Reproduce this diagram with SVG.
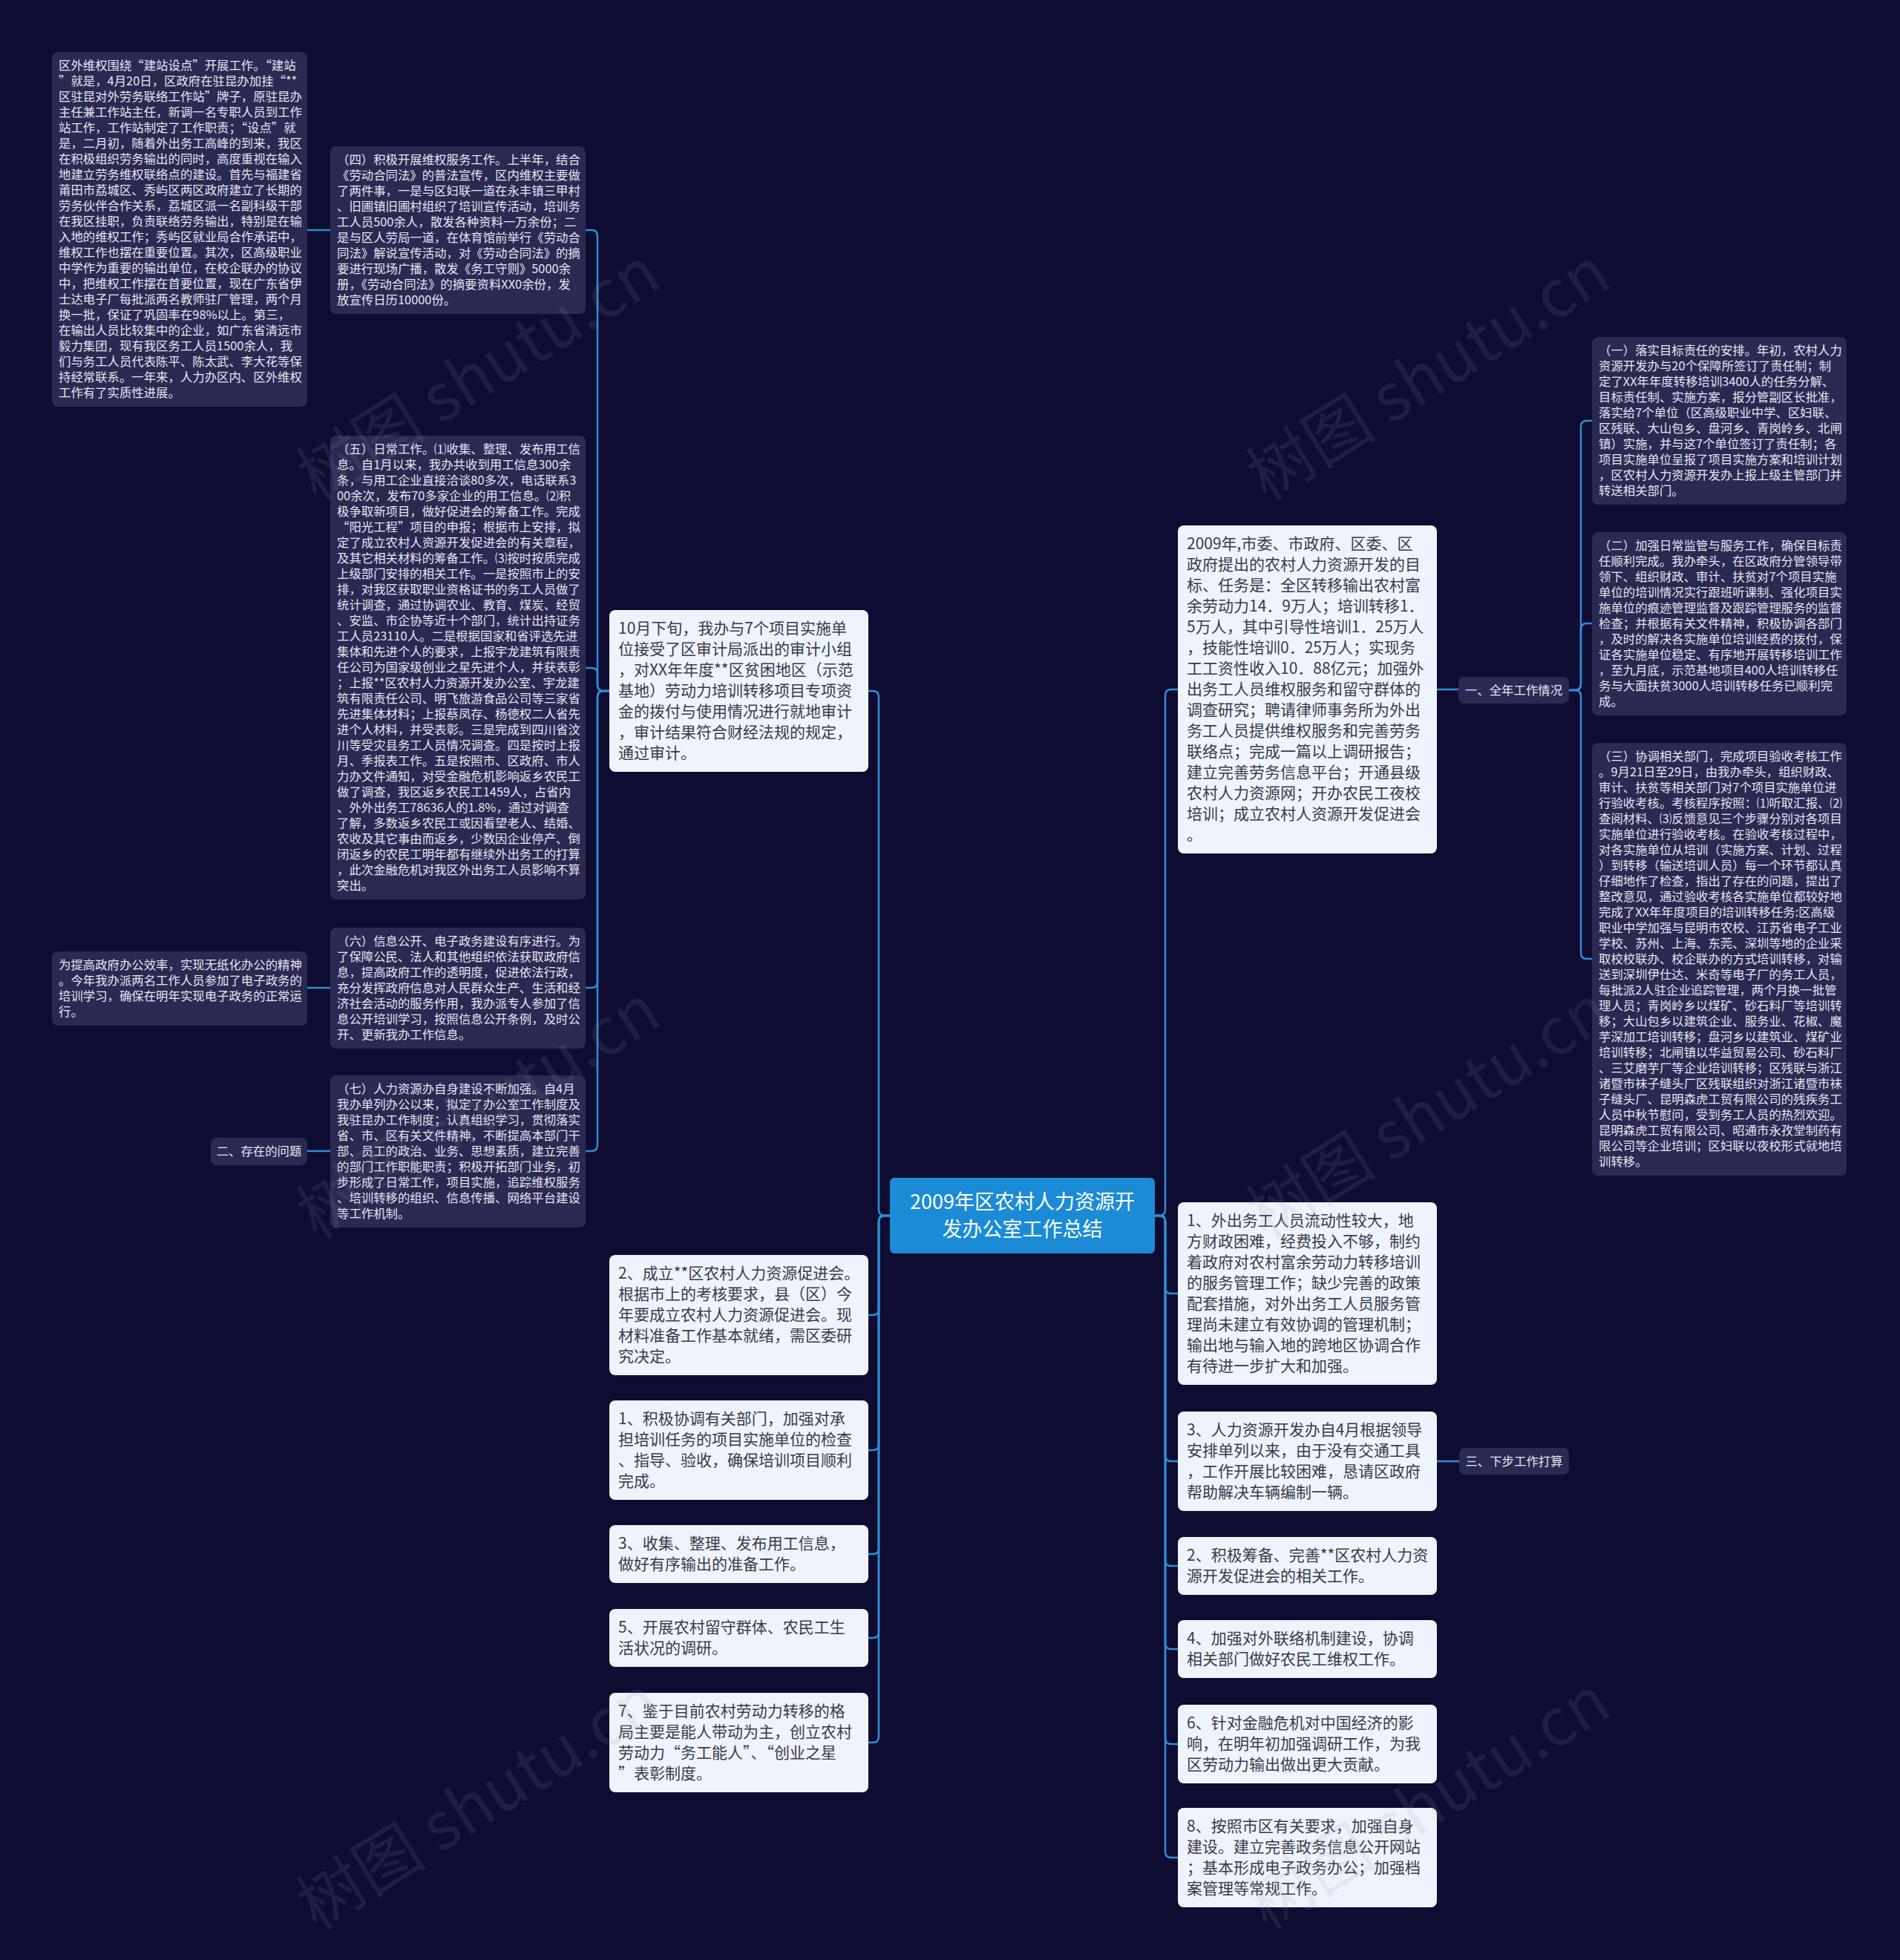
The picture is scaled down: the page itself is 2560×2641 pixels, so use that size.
<svg xmlns="http://www.w3.org/2000/svg" width="2560" height="2641" viewBox="0 0 2560 2641">
<style>
.bg{fill:#0e0c31}
.d{fill:#2a2952}
.l{fill:#eef3fc}
.root{fill:#1c8bd6}
.s{font-family:"Noto Sans CJK SC","Noto Sans",sans-serif;font-size:16.4px;fill:#e6e6ef}
.m{font-family:"Noto Sans CJK SC","Noto Sans",sans-serif;font-size:21px;fill:#3a3a48}
.r{font-family:"Noto Sans CJK SC","Noto Sans",sans-serif;font-size:27px;fill:#ffffff;text-anchor:middle}
.c{text-anchor:middle}
.lnk{fill:none;stroke:#2d8ed8;stroke-width:2.5}
.wm{font-family:"Noto Sans CJK SC","Noto Sans",sans-serif;font-size:88px;fill:#9a9ab0;opacity:0.12}
</style>
<rect class="bg" x="0" y="0" width="2560" height="2641"/>

<g id="connectors">
<path class="lnk" d="M1199 1638 H1192 Q1184 1638 1184 1630 V939 Q1184 931 1176 931 H1170"/>
<path class="lnk" d="M1199 1638 H1192 Q1184 1638 1184 1646 V1764 Q1184 1772 1176 1772 H1170"/>
<path class="lnk" d="M1199 1638 H1192 Q1184 1638 1184 1646 V1946 Q1184 1954 1176 1954 H1170"/>
<path class="lnk" d="M1199 1638 H1192 Q1184 1638 1184 1646 V2086 Q1184 2094 1176 2094 H1170"/>
<path class="lnk" d="M1199 1638 H1192 Q1184 1638 1184 1646 V2199 Q1184 2207 1176 2207 H1170"/>
<path class="lnk" d="M1199 1638 H1192 Q1184 1638 1184 1646 V2340 Q1184 2348 1176 2348 H1170"/>
<path class="lnk" d="M1556 1638 H1562 Q1570 1638 1570 1630 V937 Q1570 929 1578 929 H1587"/>
<path class="lnk" d="M1556 1638 H1562 Q1570 1638 1570 1646 V1735 Q1570 1743 1578 1743 H1587"/>
<path class="lnk" d="M1556 1638 H1562 Q1570 1638 1570 1646 V1961 Q1570 1969 1578 1969 H1587"/>
<path class="lnk" d="M1556 1638 H1562 Q1570 1638 1570 1646 V2102 Q1570 2110 1578 2110 H1587"/>
<path class="lnk" d="M1556 1638 H1562 Q1570 1638 1570 1646 V2214 Q1570 2222 1578 2222 H1587"/>
<path class="lnk" d="M1556 1638 H1562 Q1570 1638 1570 1646 V2342 Q1570 2350 1578 2350 H1587"/>
<path class="lnk" d="M1556 1638 H1562 Q1570 1638 1570 1646 V2495 Q1570 2503 1578 2503 H1587"/>
<path class="lnk" d="M821 931 H813 Q805 931 805 923 V318 Q805 310 797 310 H789"/>
<path class="lnk" d="M821 931 H813 Q805 931 805 923 V908 Q805 900 797 900 H789"/>
<path class="lnk" d="M821 931 H813 Q805 931 805 939 V1323 Q805 1331 797 1331 H789"/>
<path class="lnk" d="M821 931 H813 Q805 931 805 939 V1543 Q805 1551 797 1551 H789"/>
<path class="lnk" d="M445 310 H414"/>
<path class="lnk" d="M445 1331 H414"/>
<path class="lnk" d="M445 1551 H414"/>
<path class="lnk" d="M1936 929 H1965"/>
<path class="lnk" d="M2114 930 H2122 Q2130 930 2130 922 V575 Q2130 567 2138 567 H2145"/>
<path class="lnk" d="M2114 930 H2122 Q2130 930 2130 922 V848 Q2130 840 2138 840 H2145"/>
<path class="lnk" d="M2114 930 H2122 Q2130 930 2130 938 V1284 Q2130 1292 2138 1292 H2145"/>
<path class="lnk" d="M1936 1969 H1966"/>
</g>

<g id="root">
<rect class="root" x="1199" y="1587" width="357" height="102" rx="6"/>
<text class="r" x="1377.5" y="1629">2009年区农村人力资源开</text>
<text class="r" x="1377.5" y="1666">发办公室工作总结</text>
</g>

<g id="n-farleft">
<rect class="d" x="70" y="70" width="344" height="478" rx="8"/>
<text class="s" x="79" y="94"><tspan x="79" dy="0">区外维权围绕“建站设点”开展工作。“建站</tspan><tspan x="79" dy="21">”就是，4月20日，区政府在驻昆办加挂“**</tspan><tspan x="79" dy="21">区驻昆对外劳务联络工作站”牌子，原驻昆办</tspan><tspan x="79" dy="21">主任兼工作站主任，新调一名专职人员到工作</tspan><tspan x="79" dy="21">站工作，工作站制定了工作职责；“设点”就</tspan><tspan x="79" dy="21">是，二月初，随着外出务工高峰的到来，我区</tspan><tspan x="79" dy="21">在积极组织劳务输出的同时，高度重视在输入</tspan><tspan x="79" dy="21">地建立劳务维权联络点的建设。首先与福建省</tspan><tspan x="79" dy="21">莆田市荔城区、秀屿区两区政府建立了长期的</tspan><tspan x="79" dy="21">劳务伙伴合作关系，荔城区派一名副科级干部</tspan><tspan x="79" dy="21">在我区挂职，负责联络劳务输出，特别是在输</tspan><tspan x="79" dy="21">入地的维权工作；秀屿区就业局合作承诺中，</tspan><tspan x="79" dy="21">维权工作也摆在重要位置。其次，区高级职业</tspan><tspan x="79" dy="21">中学作为重要的输出单位，在校企联办的协议</tspan><tspan x="79" dy="21">中，把维权工作摆在首要位置，现在广东省伊</tspan><tspan x="79" dy="21">士达电子厂每批派两名教师驻厂管理，两个月</tspan><tspan x="79" dy="21">换一批，保证了巩固率在98%以上。第三，</tspan><tspan x="79" dy="21">在输出人员比较集中的企业，如广东省清远市</tspan><tspan x="79" dy="21">毅力集团，现有我区务工人员1500余人，我</tspan><tspan x="79" dy="21">们与务工人员代表陈平、陈太武、李大花等保</tspan><tspan x="79" dy="21">持经常联系。一年来，人力办区内、区外维权</tspan><tspan x="79" dy="21">工作有了实质性进展。</tspan></text>
</g>

<g id="n-4">
<rect class="d" x="445" y="197" width="344" height="226" rx="8"/>
<text class="s" x="454" y="221"><tspan x="454" dy="0">（四）积极开展维权服务工作。上半年，结合</tspan><tspan x="454" dy="21">《劳动合同法》的普法宣传，区内维权主要做</tspan><tspan x="454" dy="21">了两件事，一是与区妇联一道在永丰镇三甲村</tspan><tspan x="454" dy="21">、旧圃镇旧圃村组织了培训宣传活动，培训务</tspan><tspan x="454" dy="21">工人员500余人，散发各种资料一万余份；二</tspan><tspan x="454" dy="21">是与区人劳局一道，在体育馆前举行《劳动合</tspan><tspan x="454" dy="21">同法》解说宣传活动，对《劳动合同法》的摘</tspan><tspan x="454" dy="21">要进行现场广播，散发《务工守则》5000余</tspan><tspan x="454" dy="21">册，《劳动合同法》的摘要资料XX0余份，发</tspan><tspan x="454" dy="21">放宣传日历10000份。</tspan></text>
</g>

<g id="n-5">
<rect class="d" x="445" y="587" width="344" height="625" rx="8"/>
<text class="s" x="454" y="611"><tspan x="454" dy="0">（五）日常工作。⑴收集、整理、发布用工信</tspan><tspan x="454" dy="21">息。自1月以来，我办共收到用工信息300余</tspan><tspan x="454" dy="21">条，与用工企业直接洽谈80多次，电话联系3</tspan><tspan x="454" dy="21">00余次，发布70多家企业的用工信息。⑵积</tspan><tspan x="454" dy="21">极争取新项目，做好促进会的筹备工作。完成</tspan><tspan x="454" dy="21">“阳光工程”项目的申报；根据市上安排，拟</tspan><tspan x="454" dy="21">定了成立农村人资源开发促进会的有关章程，</tspan><tspan x="454" dy="21">及其它相关材料的筹备工作。⑶按时按质完成</tspan><tspan x="454" dy="21">上级部门安排的相关工作。一是按照市上的安</tspan><tspan x="454" dy="21">排，对我区获取职业资格证书的务工人员做了</tspan><tspan x="454" dy="21">统计调查，通过协调农业、教育、煤炭、经贸</tspan><tspan x="454" dy="21">、安监、市企协等近十个部门，统计出持证务</tspan><tspan x="454" dy="21">工人员23110人。二是根据国家和省评选先进</tspan><tspan x="454" dy="21">集体和先进个人的要求，上报宇龙建筑有限责</tspan><tspan x="454" dy="21">任公司为国家级创业之星先进个人，并获表彰</tspan><tspan x="454" dy="21">；上报**区农村人力资源开发办公室、宇龙建</tspan><tspan x="454" dy="21">筑有限责任公司、明飞旅游食品公司等三家省</tspan><tspan x="454" dy="21">先进集体材料；上报蔡凤存、杨德权二人省先</tspan><tspan x="454" dy="21">进个人材料，并受表彰。三是完成到四川省汶</tspan><tspan x="454" dy="21">川等受灾县务工人员情况调查。四是按时上报</tspan><tspan x="454" dy="21">月、季报表工作。五是按照市、区政府、市人</tspan><tspan x="454" dy="21">力办文件通知，对受金融危机影响返乡农民工</tspan><tspan x="454" dy="21">做了调查，我区返乡农民工1459人，占省内</tspan><tspan x="454" dy="21">、外外出务工78636人的1.8%，通过对调查</tspan><tspan x="454" dy="21">了解，多数返乡农民工或因看望老人、结婚、</tspan><tspan x="454" dy="21">农收及其它事由而返乡，少数因企业停产、倒</tspan><tspan x="454" dy="21">闭返乡的农民工明年都有继续外出务工的打算</tspan><tspan x="454" dy="21">，此次金融危机对我区外出务工人员影响不算</tspan><tspan x="454" dy="21">突出。</tspan></text>
</g>

<g id="n-6">
<rect class="d" x="445" y="1250" width="344" height="163" rx="8"/>
<text class="s" x="454" y="1274"><tspan x="454" dy="0">（六）信息公开、电子政务建设有序进行。为</tspan><tspan x="454" dy="21">了保障公民、法人和其他组织依法获取政府信</tspan><tspan x="454" dy="21">息，提高政府工作的透明度，促进依法行政，</tspan><tspan x="454" dy="21">充分发挥政府信息对人民群众生产、生活和经</tspan><tspan x="454" dy="21">济社会活动的服务作用，我办派专人参加了信</tspan><tspan x="454" dy="21">息公开培训学习，按照信息公开条例，及时公</tspan><tspan x="454" dy="21">开、更新我办工作信息。</tspan></text>
</g>

<g id="n-6a">
<rect class="d" x="70" y="1282" width="344" height="100" rx="8"/>
<text class="s" x="79" y="1306"><tspan x="79" dy="0">为提高政府办公效率，实现无纸化办公的精神</tspan><tspan x="79" dy="21">。今年我办派两名工作人员参加了电子政务的</tspan><tspan x="79" dy="21">培训学习，确保在明年实现电子政务的正常运</tspan><tspan x="79" dy="21">行。</tspan></text>
</g>

<g id="n-7">
<rect class="d" x="445" y="1449" width="344" height="205" rx="8"/>
<text class="s" x="454" y="1473"><tspan x="454" dy="0">（七）人力资源办自身建设不断加强。自4月</tspan><tspan x="454" dy="21">我办单列办公以来，拟定了办公室工作制度及</tspan><tspan x="454" dy="21">我驻昆办工作制度；认真组织学习，贯彻落实</tspan><tspan x="454" dy="21">省、市、区有关文件精神，不断提高本部门干</tspan><tspan x="454" dy="21">部、员工的政治、业务、思想素质，建立完善</tspan><tspan x="454" dy="21">的部门工作职能职责；积极开拓部门业务，初</tspan><tspan x="454" dy="21">步形成了日常工作，项目实施，追踪维权服务</tspan><tspan x="454" dy="21">、培训转移的组织、信息传播、网络平台建设</tspan><tspan x="454" dy="21">等工作机制。</tspan></text>
</g>

<g id="n-label2">
<rect class="d" x="284" y="1533" width="130" height="37" rx="8"/>
<text class="s c" x="349" y="1557">二、存在的问题</text>
</g>

<g id="n-oct">
<rect class="l" x="821" y="822" width="349" height="218" rx="8"/>
<text class="m" x="833" y="854"><tspan x="833" dy="0">10月下旬，我办与7个项目实施单</tspan><tspan x="833" dy="28">位接受了区审计局派出的审计小组</tspan><tspan x="833" dy="28">，对XX年年度**区贫困地区（示范</tspan><tspan x="833" dy="28">基地）劳动力培训转移项目专项资</tspan><tspan x="833" dy="28">金的拨付与使用情况进行就地审计</tspan><tspan x="833" dy="28">，审计结果符合财经法规的规定，</tspan><tspan x="833" dy="28">通过审计。</tspan></text>
</g>

<g id="n-l2">
<rect class="l" x="821" y="1691" width="349" height="162" rx="8"/>
<text class="m" x="833" y="1723"><tspan x="833" dy="0">2、成立**区农村人力资源促进会。</tspan><tspan x="833" dy="28">根据市上的考核要求，县（区）今</tspan><tspan x="833" dy="28">年要成立农村人力资源促进会。现</tspan><tspan x="833" dy="28">材料准备工作基本就绪，需区委研</tspan><tspan x="833" dy="28">究决定。</tspan></text>
</g>

<g id="n-l1">
<rect class="l" x="821" y="1887" width="349" height="134" rx="8"/>
<text class="m" x="833" y="1919"><tspan x="833" dy="0">1、积极协调有关部门，加强对承</tspan><tspan x="833" dy="28">担培训任务的项目实施单位的检查</tspan><tspan x="833" dy="28">、指导、验收，确保培训项目顺利</tspan><tspan x="833" dy="28">完成。</tspan></text>
</g>

<g id="n-l3">
<rect class="l" x="821" y="2055" width="349" height="78" rx="8"/>
<text class="m" x="833" y="2087"><tspan x="833" dy="0">3、收集、整理、发布用工信息，</tspan><tspan x="833" dy="28">做好有序输出的准备工作。</tspan></text>
</g>

<g id="n-l5">
<rect class="l" x="821" y="2168" width="349" height="78" rx="8"/>
<text class="m" x="833" y="2200"><tspan x="833" dy="0">5、开展农村留守群体、农民工生</tspan><tspan x="833" dy="28">活状况的调研。</tspan></text>
</g>

<g id="n-l7">
<rect class="l" x="821" y="2281" width="349" height="134" rx="8"/>
<text class="m" x="833" y="2313"><tspan x="833" dy="0">7、鉴于目前农村劳动力转移的格</tspan><tspan x="833" dy="28">局主要是能人带动为主，创立农村</tspan><tspan x="833" dy="28">劳动力“务工能人”、“创业之星</tspan><tspan x="833" dy="28">”表彰制度。</tspan></text>
</g>

<g id="n-2009">
<rect class="l" x="1587" y="708" width="349" height="442" rx="8"/>
<text class="m" x="1599" y="740"><tspan x="1599" dy="0">2009年,市委、市政府、区委、区</tspan><tspan x="1599" dy="28">政府提出的农村人力资源开发的目</tspan><tspan x="1599" dy="28">标、任务是：全区转移输出农村富</tspan><tspan x="1599" dy="28">余劳动力14．9万人；培训转移1．</tspan><tspan x="1599" dy="28">5万人，其中引导性培训1．25万人</tspan><tspan x="1599" dy="28">，技能性培训0．25万人；实现务</tspan><tspan x="1599" dy="28">工工资性收入10．88亿元；加强外</tspan><tspan x="1599" dy="28">出务工人员维权服务和留守群体的</tspan><tspan x="1599" dy="28">调查研究；聘请律师事务所为外出</tspan><tspan x="1599" dy="28">务工人员提供维权服务和完善劳务</tspan><tspan x="1599" dy="28">联络点；完成一篇以上调研报告；</tspan><tspan x="1599" dy="28">建立完善劳务信息平台；开通县级</tspan><tspan x="1599" dy="28">农村人力资源网；开办农民工夜校</tspan><tspan x="1599" dy="28">培训；成立农村人资源开发促进会</tspan><tspan x="1599" dy="28">。</tspan></text>
</g>

<g id="n-r1">
<rect class="l" x="1587" y="1620" width="349" height="246" rx="8"/>
<text class="m" x="1599" y="1652"><tspan x="1599" dy="0">1、外出务工人员流动性较大，地</tspan><tspan x="1599" dy="28">方财政困难，经费投入不够，制约</tspan><tspan x="1599" dy="28">着政府对农村富余劳动力转移培训</tspan><tspan x="1599" dy="28">的服务管理工作；缺少完善的政策</tspan><tspan x="1599" dy="28">配套措施，对外出务工人员服务管</tspan><tspan x="1599" dy="28">理尚未建立有效协调的管理机制；</tspan><tspan x="1599" dy="28">输出地与输入地的跨地区协调合作</tspan><tspan x="1599" dy="28">有待进一步扩大和加强。</tspan></text>
</g>

<g id="n-r3">
<rect class="l" x="1587" y="1902" width="349" height="134" rx="8"/>
<text class="m" x="1599" y="1934"><tspan x="1599" dy="0">3、人力资源开发办自4月根据领导</tspan><tspan x="1599" dy="28">安排单列以来，由于没有交通工具</tspan><tspan x="1599" dy="28">，工作开展比较困难，恳请区政府</tspan><tspan x="1599" dy="28">帮助解决车辆编制一辆。</tspan></text>
</g>

<g id="n-r2">
<rect class="l" x="1587" y="2071" width="349" height="78" rx="8"/>
<text class="m" x="1599" y="2103"><tspan x="1599" dy="0">2、积极筹备、完善**区农村人力资</tspan><tspan x="1599" dy="28">源开发促进会的相关工作。</tspan></text>
</g>

<g id="n-r4">
<rect class="l" x="1587" y="2183" width="349" height="78" rx="8"/>
<text class="m" x="1599" y="2215"><tspan x="1599" dy="0">4、加强对外联络机制建设，协调</tspan><tspan x="1599" dy="28">相关部门做好农民工维权工作。</tspan></text>
</g>

<g id="n-r6">
<rect class="l" x="1587" y="2297" width="349" height="106" rx="8"/>
<text class="m" x="1599" y="2329"><tspan x="1599" dy="0">6、针对金融危机对中国经济的影</tspan><tspan x="1599" dy="28">响，在明年初加强调研工作，为我</tspan><tspan x="1599" dy="28">区劳动力输出做出更大贡献。</tspan></text>
</g>

<g id="n-r8">
<rect class="l" x="1587" y="2436" width="349" height="134" rx="8"/>
<text class="m" x="1599" y="2468"><tspan x="1599" dy="0">8、按照市区有关要求，加强自身</tspan><tspan x="1599" dy="28">建设。建立完善政务信息公开网站</tspan><tspan x="1599" dy="28">；基本形成电子政务办公；加强档</tspan><tspan x="1599" dy="28">案管理等常规工作。</tspan></text>
</g>

<g id="n-label1">
<rect class="d" x="1965" y="912" width="149" height="36" rx="8"/>
<text class="s c" x="2039.5" y="936">一、全年工作情况</text>
</g>

<g id="n-label3">
<rect class="d" x="1966" y="1951" width="148" height="36" rx="8"/>
<text class="s c" x="2040" y="1975">三、下步工作打算</text>
</g>

<g id="n-1">
<rect class="d" x="2145" y="454" width="343" height="226" rx="8"/>
<text class="s" x="2154" y="478"><tspan x="2154" dy="0">（一）落实目标责任的安排。年初，农村人力</tspan><tspan x="2154" dy="21">资源开发办与20个保障所签订了责任制；制</tspan><tspan x="2154" dy="21">定了XX年年度转移培训3400人的任务分解、</tspan><tspan x="2154" dy="21">目标责任制、实施方案，报分管副区长批准，</tspan><tspan x="2154" dy="21">落实给7个单位（区高级职业中学、区妇联、</tspan><tspan x="2154" dy="21">区残联、大山包乡、盘河乡、青岗岭乡、北闸</tspan><tspan x="2154" dy="21">镇）实施，并与这7个单位签订了责任制；各</tspan><tspan x="2154" dy="21">项目实施单位呈报了项目实施方案和培训计划</tspan><tspan x="2154" dy="21">，区农村人力资源开发办上报上级主管部门并</tspan><tspan x="2154" dy="21">转送相关部门。</tspan></text>
</g>

<g id="n-2">
<rect class="d" x="2145" y="717" width="343" height="247" rx="8"/>
<text class="s" x="2154" y="741"><tspan x="2154" dy="0">（二）加强日常监管与服务工作，确保目标责</tspan><tspan x="2154" dy="21">任顺利完成。我办牵头，在区政府分管领导带</tspan><tspan x="2154" dy="21">领下、组织财政、审计、扶贫对7个项目实施</tspan><tspan x="2154" dy="21">单位的培训情况实行跟班听课制、强化项目实</tspan><tspan x="2154" dy="21">施单位的痕迹管理监督及跟踪管理服务的监督</tspan><tspan x="2154" dy="21">检查；并根据有关文件精神，积极协调各部门</tspan><tspan x="2154" dy="21">，及时的解决各实施单位培训经费的拨付，保</tspan><tspan x="2154" dy="21">证各实施单位稳定、有序地开展转移培训工作</tspan><tspan x="2154" dy="21">，至九月底，示范基地项目400人培训转移任</tspan><tspan x="2154" dy="21">务与大面扶贫3000人培训转移任务已顺利完</tspan><tspan x="2154" dy="21">成。</tspan></text>
</g>

<g id="n-3">
<rect class="d" x="2145" y="1001" width="343" height="583" rx="8"/>
<text class="s" x="2154" y="1025"><tspan x="2154" dy="0">（三）协调相关部门，完成项目验收考核工作</tspan><tspan x="2154" dy="21">。9月21日至29日，由我办牵头，组织财政、</tspan><tspan x="2154" dy="21">审计、扶贫等相关部门对7个项目实施单位进</tspan><tspan x="2154" dy="21">行验收考核。考核程序按照：⑴听取汇报、⑵</tspan><tspan x="2154" dy="21">查阅材料、⑶反馈意见三个步骤分别对各项目</tspan><tspan x="2154" dy="21">实施单位进行验收考核。在验收考核过程中，</tspan><tspan x="2154" dy="21">对各实施单位从培训（实施方案、计划、过程</tspan><tspan x="2154" dy="21">）到转移（输送培训人员）每一个环节都认真</tspan><tspan x="2154" dy="21">仔细地作了检查，指出了存在的问题，提出了</tspan><tspan x="2154" dy="21">整改意见，通过验收考核各实施单位都较好地</tspan><tspan x="2154" dy="21">完成了XX年年度项目的培训转移任务:区高级</tspan><tspan x="2154" dy="21">职业中学加强与昆明市农校、江苏省电子工业</tspan><tspan x="2154" dy="21">学校、苏州、上海、东莞、深圳等地的企业采</tspan><tspan x="2154" dy="21">取校校联办、校企联办的方式培训转移，对输</tspan><tspan x="2154" dy="21">送到深圳伊仕达、米奇等电子厂的务工人员，</tspan><tspan x="2154" dy="21">每批派2人驻企业追踪管理，两个月换一批管</tspan><tspan x="2154" dy="21">理人员；青岗岭乡以煤矿、砂石料厂等培训转</tspan><tspan x="2154" dy="21">移；大山包乡以建筑企业、服务业、花椒、魔</tspan><tspan x="2154" dy="21">芋深加工培训转移；盘河乡以建筑业、煤矿业</tspan><tspan x="2154" dy="21">培训转移；北闸镇以华益贸易公司、砂石料厂</tspan><tspan x="2154" dy="21">、三艾磨芋厂等企业培训转移；区残联与浙江</tspan><tspan x="2154" dy="21">诸暨市袜子缝头厂区残联组织对浙江诸暨市袜</tspan><tspan x="2154" dy="21">子缝头厂、昆明森虎工贸有限公司的残疾务工</tspan><tspan x="2154" dy="21">人员中秋节慰问，受到务工人员的热烈欢迎。</tspan><tspan x="2154" dy="21">昆明森虎工贸有限公司、昭通市永孜堂制药有</tspan><tspan x="2154" dy="21">限公司等企业培训；区妇联以夜校形式就地培</tspan><tspan x="2154" dy="21">训转移。</tspan></text>
</g>

<g id="watermarks">
<text class="wm" x="645" y="535" text-anchor="middle" transform="rotate(-32 645 505)">树图 shutu.cn</text>
<text class="wm" x="1925" y="535" text-anchor="middle" transform="rotate(-32 1925 505)">树图 shutu.cn</text>
<text class="wm" x="645" y="1529" text-anchor="middle" transform="rotate(-32 645 1499)">树图 shutu.cn</text>
<text class="wm" x="1925" y="1529" text-anchor="middle" transform="rotate(-32 1925 1499)">树图 shutu.cn</text>
<text class="wm" x="645" y="2460" text-anchor="middle" transform="rotate(-32 645 2430)">树图 shutu.cn</text>
<text class="wm" x="1925" y="2460" text-anchor="middle" transform="rotate(-32 1925 2430)">树图 shutu.cn</text>
</g>
</svg>
